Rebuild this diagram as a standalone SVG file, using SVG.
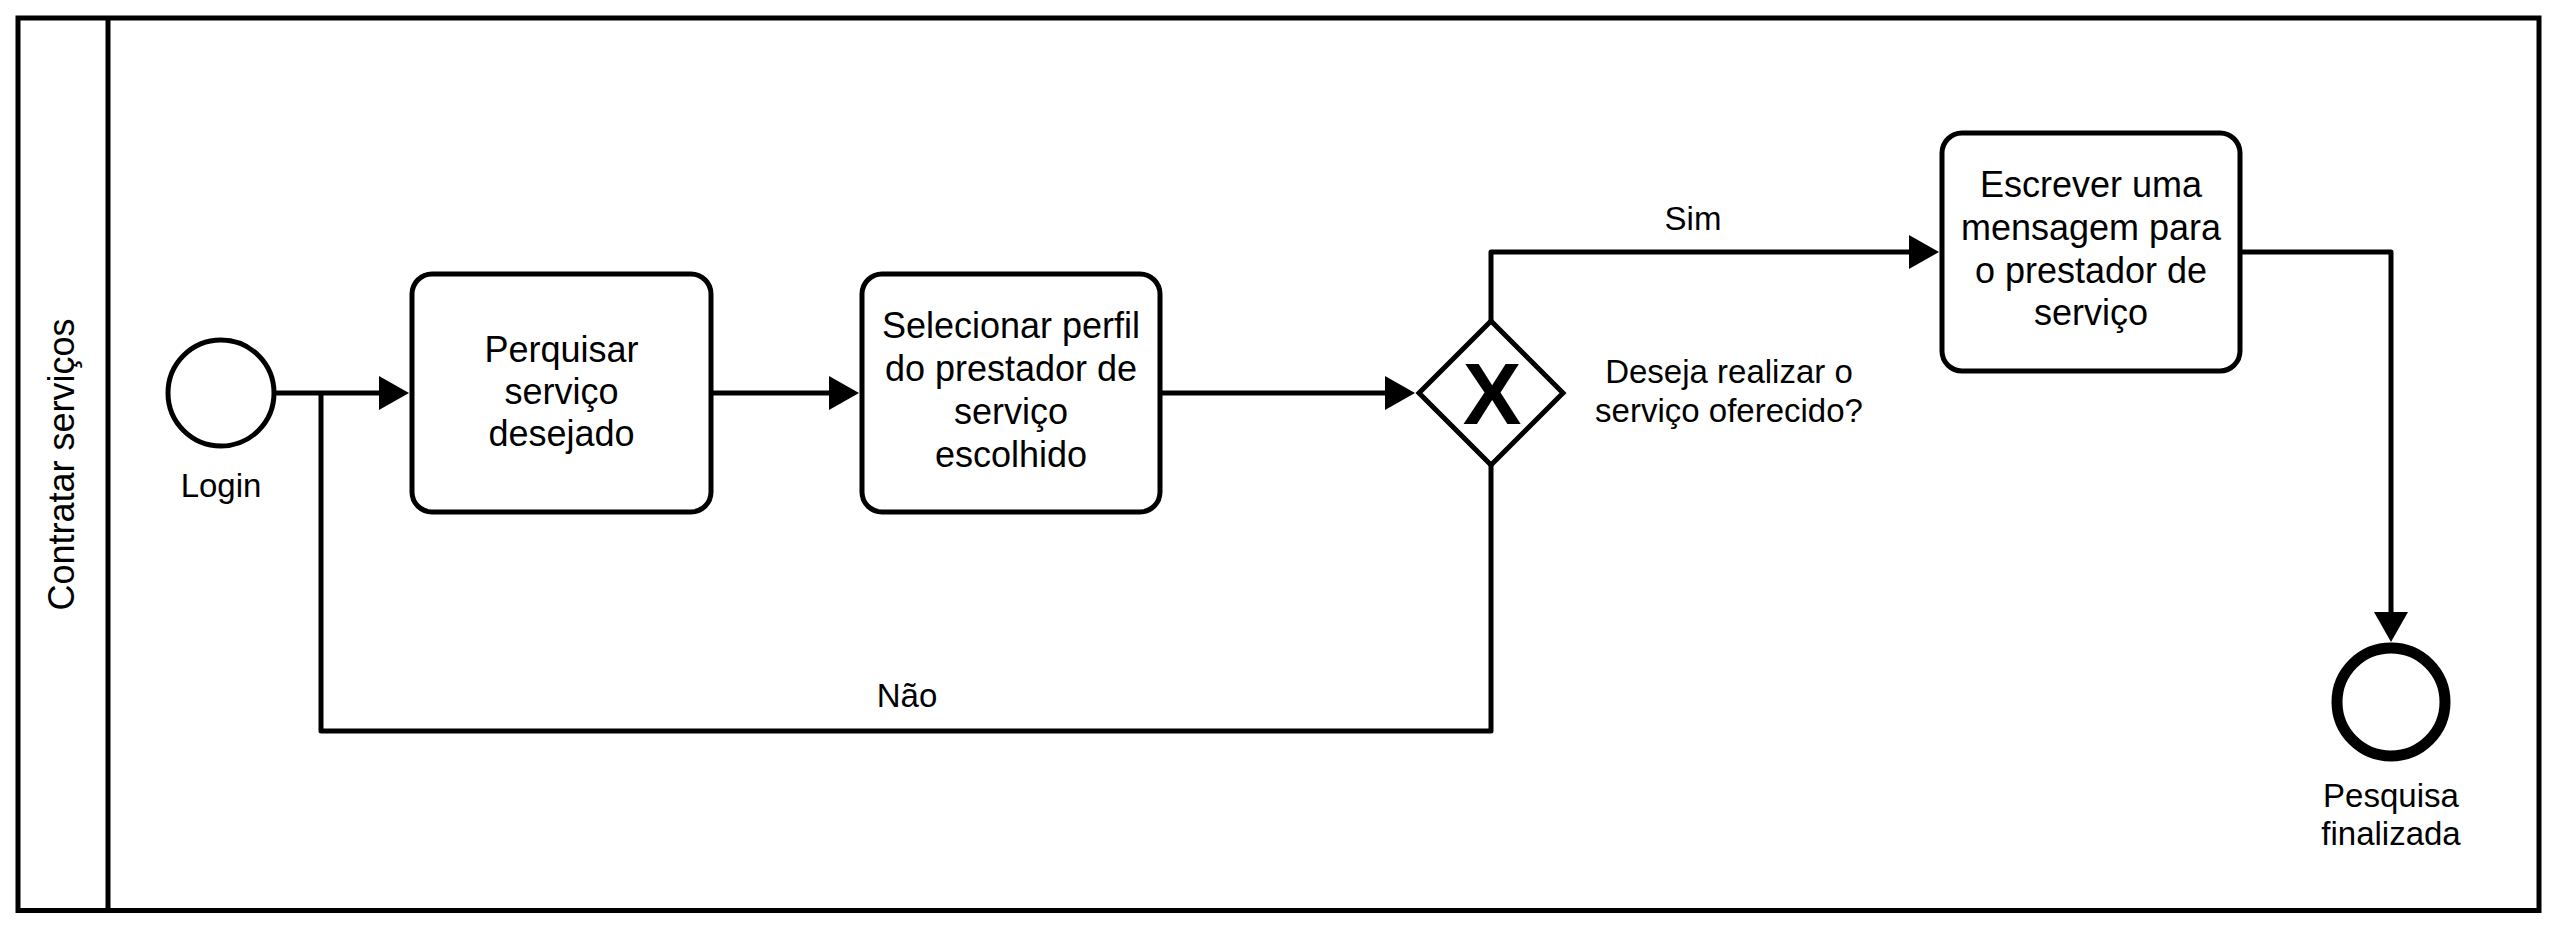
<svg xmlns="http://www.w3.org/2000/svg" width="2559" height="930" viewBox="0 0 2559 930">
  <style>
    .box { fill: #fff; stroke: #000; stroke-width: 5; }
    .line { fill: none; stroke: #000; stroke-width: 5; stroke-linejoin: round; }
    .t36 { font-family: "Liberation Sans", Arial, sans-serif; font-size: 36px; fill: #000; text-anchor: middle; }
    .t32 { font-family: "Liberation Sans", Arial, sans-serif; font-size: 33px; fill: #000; text-anchor: middle; }
    .mark { font-family: "Liberation Sans", Arial, sans-serif; font-size: 88px; font-weight: bold; fill: #000; text-anchor: middle; }
  </style>
  <defs>
    <marker id="arrow" markerUnits="userSpaceOnUse" markerWidth="30" markerHeight="34" refX="25" refY="17" orient="auto">
      <path d="M0,0 L30,17 L0,34 z" fill="#000"/>
    </marker>
  </defs>
  <rect width="2559" height="930" fill="#fff"/>

  <g id="pool">
    <rect class="box" x="18" y="18" width="2521" height="892.5"/>
    <line x1="108" y1="18" x2="108" y2="910.5" stroke="#000" stroke-width="5"/>
    <text class="t36" transform="translate(74,464.5) rotate(-90)">Contratar serviços</text>
  </g>

  <g id="connectors">
    <path class="line" d="M274,393 L404,393" marker-end="url(#arrow)"/>
    <path class="line" d="M711,393 L854,393" marker-end="url(#arrow)"/>
    <path class="line" d="M1160,393 L1410,393" marker-end="url(#arrow)"/>
    <path class="line" d="M1491,321 L1491,252 L1934,252" marker-end="url(#arrow)"/>
    <path class="line" d="M1491,465 L1491,731 L321,731 L321,393"/>
    <path class="line" d="M2240,252 L2391,252 L2391,637" marker-end="url(#arrow)"/>
    <text class="t32" x="1693" y="230">Sim</text>
    <text class="t32" x="907" y="707">Não</text>
  </g>

  <g id="start">
    <circle cx="221" cy="393" r="53" fill="#fff" stroke="#000" stroke-width="5"/>
    <text class="t32" x="221" y="497">Login</text>
  </g>

  <g id="task1">
    <rect class="box" x="412" y="274" width="299" height="238" rx="20" ry="20"/>
    <text class="t36" x="561.5" y="362">Perquisar</text>
    <text class="t36" x="561.5" y="404">serviço</text>
    <text class="t36" x="561.5" y="446">desejado</text>
  </g>

  <g id="task2">
    <rect class="box" x="862" y="274" width="298" height="238" rx="20" ry="20"/>
    <text class="t36" x="1011" y="338">Selecionar perfil</text>
    <text class="t36" x="1011" y="381">do prestador de</text>
    <text class="t36" x="1011" y="424">serviço</text>
    <text class="t36" x="1011" y="467">escolhido</text>
  </g>

  <g id="gateway">
    <polygon class="box" points="1491,321 1563,393 1491,465 1419,393"/>
    <text class="mark" x="1492" y="424">X</text>
    <text class="t32" x="1729" y="383">Deseja realizar o</text>
    <text class="t32" x="1729" y="422">serviço oferecido?</text>
  </g>

  <g id="task3">
    <rect class="box" x="1942" y="133" width="298" height="238" rx="20" ry="20"/>
    <text class="t36" x="2091" y="197">Escrever uma</text>
    <text class="t36" x="2091" y="240">mensagem para</text>
    <text class="t36" x="2091" y="283">o prestador de</text>
    <text class="t36" x="2091" y="325">serviço</text>
  </g>

  <g id="end">
    <circle cx="2391" cy="702" r="54" fill="#fff" stroke="#000" stroke-width="11"/>
    <text class="t32" x="2391" y="807">Pesquisa</text>
    <text class="t32" x="2391" y="845">finalizada</text>
  </g>
</svg>
